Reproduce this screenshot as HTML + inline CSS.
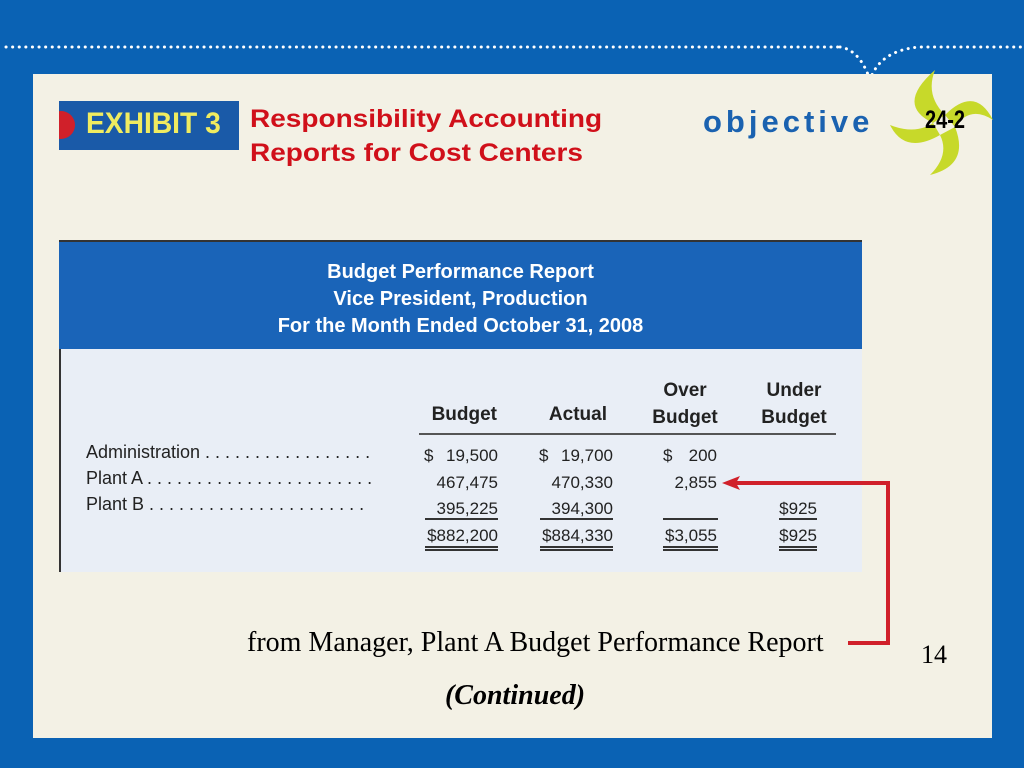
<!DOCTYPE html>
<html><head><meta charset="utf-8"><style>
*{margin:0;padding:0;box-sizing:border-box}
body{width:1024px;height:768px;background:#0a62b4;position:relative;overflow:hidden;font-family:"Liberation Sans",sans-serif}
.a{position:absolute;white-space:nowrap}
.t{font-family:"Liberation Sans",sans-serif;font-size:17px;color:#222;transform-origin:left top}
.r{text-align:right;width:110px}
.ln{position:absolute;height:2px;background:#333}
</style></head><body>
<svg class="a" style="left:0;top:0" width="1024" height="120">
<line x1="6" y1="47" x2="840" y2="47" stroke="#fff" stroke-width="3" stroke-dasharray="0.1 6.5" stroke-linecap="round"/>
<path d="M840 47 Q860 50 870 80 Q880 50 920 47 L1024 47" fill="none" stroke="#fff" stroke-width="3" stroke-dasharray="0.1 6.5" stroke-linecap="round"/>
</svg>
<div class="a" style="left:33px;top:74px;width:959px;height:664px;background:#f3f1e5"></div>
<svg class="a" style="left:885px;top:65px" width="120" height="125">
<path d="M48 58 Q10 40 50 5 Q40 30 60 50 Z M60 50 Q90 20 108 55 Q85 40 70 62 Z M70 62 Q85 100 45 110 Q65 90 55 70 Z M55 70 Q20 90 5 60 Q30 70 48 58 Z" fill="#c7d92a"/>
</svg>
<div class="a" style="left:59px;top:101px;width:180px;height:49px;background:#1a5aa8;overflow:hidden">
<div class="a" style="left:-12px;top:10px;width:28px;height:28px;border-radius:50%;background:#d0202a"></div>
<div class="a" style="left:27px;top:6px;font-size:30px;font-weight:bold;color:#f0ec60;transform:scaleX(0.94);transform-origin:left top">EXHIBIT 3</div>
</div>
<div class="a" style="left:250px;top:102px;font-size:25px;font-weight:bold;color:#d0101a;line-height:34px;transform:scaleX(1.12);transform-origin:left top">Responsibility Accounting<br>Reports for Cost Centers</div>
<div class="a" style="left:703px;top:104px;font-size:31px;font-weight:bold;color:#1a62b0;letter-spacing:4px">objective</div>
<div class="a" style="left:925px;top:106px;font-size:25px;font-weight:bold;color:#000;transform:scaleX(0.8);transform-origin:left top">24-2</div>

<div class="a" style="left:59px;top:240px;width:803px;height:332px;background:#e9eef6;border-left:2px solid #333"></div>
<div class="a" style="left:59px;top:240px;width:803px;height:109px;background:#1a64b8;border-top:2px solid #333"></div>
<div class="a" style="left:59px;top:259px;width:803px;text-align:center;color:#fff;font-size:20px;font-weight:bold;line-height:27px">Budget Performance Report<br>Vice President, Production<br>For the Month Ended October 31, 2008</div>

<div class="a t r" style="left:387px;top:404px;font-weight:bold;font-size:19px">Budget</div>
<div class="a t r" style="left:497px;top:404px;font-weight:bold;font-size:19px">Actual</div>
<div class="a t" style="left:645px;top:377px;font-weight:bold;font-size:19px;text-align:center;width:80px;line-height:27px">Over<br>Budget</div>
<div class="a t" style="left:754px;top:377px;font-weight:bold;font-size:19px;text-align:center;width:80px;line-height:27px">Under<br>Budget</div>
<div class="ln" style="left:419px;top:433px;width:417px;height:2px;background:#555"></div>

<div class="a t" style="left:86px;top:442px;font-size:18px">Administration . . . . . . . . . . . . . . . . .</div>
<div class="a t" style="left:86px;top:468px;font-size:18px">Plant A . . . . . . . . . . . . . . . . . . . . . . .</div>
<div class="a t" style="left:86px;top:494px;font-size:18px">Plant B . . . . . . . . . . . . . . . . . . . . . .</div>

<div class="a t" style="left:424px;top:446px">$</div><div class="a t r" style="left:388px;top:446px">19,500</div>
<div class="a t" style="left:539px;top:446px">$</div><div class="a t r" style="left:503px;top:446px">19,700</div>
<div class="a t" style="left:663px;top:446px">$</div><div class="a t r" style="left:607px;top:446px">200</div>
<div class="a t r" style="left:388px;top:473px">467,475</div>
<div class="a t r" style="left:503px;top:473px">470,330</div>
<div class="a t r" style="left:607px;top:473px">2,855</div>
<div class="a t r" style="left:388px;top:499px">395,225</div>
<div class="a t r" style="left:503px;top:499px">394,300</div>
<div class="a t r" style="left:707px;top:499px">$925</div>
<div class="ln" style="left:425px;top:518px;width:73px"></div>
<div class="ln" style="left:540px;top:518px;width:73px"></div>
<div class="ln" style="left:663px;top:518px;width:55px"></div>
<div class="ln" style="left:779px;top:518px;width:38px"></div>
<div class="a t r" style="left:388px;top:526px">$882,200</div>
<div class="a t r" style="left:503px;top:526px">$884,330</div>
<div class="a t r" style="left:607px;top:526px">$3,055</div>
<div class="a t r" style="left:707px;top:526px">$925</div>
<div class="ln" style="left:425px;top:546px;width:73px;height:5px;border-top:2px solid #333;border-bottom:2px solid #333;background:none"></div>
<div class="ln" style="left:540px;top:546px;width:73px;height:5px;border-top:2px solid #333;border-bottom:2px solid #333;background:none"></div>
<div class="ln" style="left:663px;top:546px;width:55px;height:5px;border-top:2px solid #333;border-bottom:2px solid #333;background:none"></div>
<div class="ln" style="left:779px;top:546px;width:38px;height:5px;border-top:2px solid #333;border-bottom:2px solid #333;background:none"></div>

<svg class="a" style="left:700px;top:470px" width="200" height="190">
<polyline points="35,13 188,13 188,173 148,173" fill="none" stroke="#d0202a" stroke-width="4"/>
<polygon points="22,13 40,6 36,13 40,20" fill="#d0202a"/>
</svg>
<div class="a" style="left:247px;top:627px;font-family:'Liberation Serif',serif;font-size:28px;color:#000">from Manager, Plant A Budget Performance Report</div>
<div class="a" style="left:921px;top:640px;font-family:'Liberation Serif',serif;font-size:26px;color:#000">14</div>
<div class="a" style="left:0;width:1030px;text-align:center;top:680px;font-family:'Liberation Serif',serif;font-size:28px;font-weight:bold;font-style:italic;color:#000">(Continued)</div>
</body></html>
